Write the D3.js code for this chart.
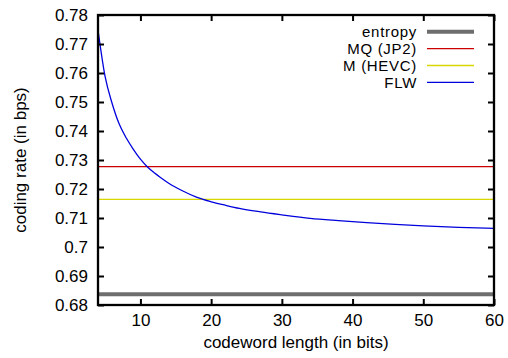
<!DOCTYPE html>
<html>
<head>
<meta charset="utf-8">
<script src="https://cdn.jsdelivr.net/npm/d3@7"></script>
<style>
  body { margin: 0; background: #fff; }
  svg { display: block; font-family: "Liberation Sans", Arial, sans-serif; }
</style>
</head>
<body>
<div id="chart"></div>
<script>
// codeword length (bits) for the FLW curve and its coding rate (bps)
const flwLength = [4, 5, 6, 7, 8, 9, 10, 11, 12, 13, 14, 16, 18, 20, 22, 24, 27, 30, 34, 38, 42, 46, 50, 55, 60];
const flwRate = [0.7748, 0.7588, 0.7495, 0.7424, 0.7376, 0.7337, 0.7303, 0.7276, 0.7255, 0.7237, 0.7220,
  0.7193, 0.7171, 0.7156, 0.7144, 0.7133, 0.7121, 0.7111, 0.7099, 0.7091, 0.7084, 0.7078, 0.7073, 0.7068, 0.7064];

// constant reference rates
const entropyRate = 0.6837;
const mqRate = 0.7277;
const hevcRate = 0.7164;

const legendNames = ['entropy', 'MQ (JP2)', 'M (HEVC)', 'FLW'];
const xTicks = [10, 20, 30, 40, 50, 60];
const yTicks = [0.68, 0.69, 0.70, 0.71, 0.72, 0.73, 0.74, 0.75, 0.76, 0.77, 0.78];

const W = 508, H = 358;
const margin = { top: 15, right: 14, bottom: 53, left: 98 };

const svg = d3.select('#chart').append('svg')
  .attr('width', W)
  .attr('height', H);

const x = d3.scaleLinear().domain([4, 60]).range([margin.left, W - margin.right]);
const y = d3.scaleLinear().domain([0.68, 0.78]).range([H - margin.bottom, margin.top]);

const styles = {
  'entropy': { color: '#6e6e6e', width: 4 },
  'MQ (JP2)': { color: '#cc0000', width: 1.3 },
  'M (HEVC)': { color: '#d8d800', width: 1.3 },
  'FLW': { color: '#0000dd', width: 1.3 }
};

// clip for data
svg.append('clipPath').attr('id', 'clip')
  .append('rect')
  .attr('x', x(4)).attr('y', y(0.78))
  .attr('width', x(60) - x(4)).attr('height', y(0.68) - y(0.78));

const plot = svg.append('g').attr('clip-path', 'url(#clip)');

const hlines = [
  { name: 'entropy', v: entropyRate },
  { name: 'MQ (JP2)', v: mqRate },
  { name: 'M (HEVC)', v: hevcRate }
];
plot.selectAll('line.h')
  .data(hlines)
  .enter().append('line')
  .attr('x1', x(4)).attr('x2', x(60))
  .attr('y1', d => y(d.v)).attr('y2', d => y(d.v))
  .attr('stroke', d => styles[d.name].color)
  .attr('stroke-width', d => styles[d.name].width);

const line = d3.line()
  .x(d => x(d[0]))
  .y(d => y(d[1]))
  .curve(d3.curveMonotoneX);

plot.append('path')
  .datum(flwLength.map((l, i) => [l, flwRate[i]]))
  .attr('d', line)
  .attr('fill', 'none')
  .attr('stroke', styles['FLW'].color)
  .attr('stroke-width', styles['FLW'].width);

// axes
const tickLen = 6;
const axisFont = '17px';

const xAxis = svg.append('g')
  .attr('transform', `translate(0,${y(0.68)})`)
  .call(d3.axisBottom(x).tickValues(xTicks).tickSizeInner(-tickLen).tickSizeOuter(0).tickPadding(9));
const xAxisTop = svg.append('g')
  .attr('transform', `translate(0,${y(0.78)})`)
  .call(d3.axisTop(x).tickValues(xTicks).tickSizeInner(-tickLen).tickSizeOuter(0).tickFormat(''));
const yAxis = svg.append('g')
  .attr('transform', `translate(${x(4)},0)`)
  .call(d3.axisLeft(y).tickValues(yTicks).tickSizeInner(-tickLen).tickSizeOuter(0).tickPadding(10)
    .tickFormat(d => d3.format('')(+d.toFixed(2))));
const yAxisRight = svg.append('g')
  .attr('transform', `translate(${x(60)},0)`)
  .call(d3.axisRight(y).tickValues(yTicks).tickSizeInner(-tickLen).tickSizeOuter(0).tickFormat(''));

[xAxis, xAxisTop, yAxis, yAxisRight].forEach(a => {
  a.select('.domain').remove();
  a.selectAll('.tick line').attr('stroke', '#000').attr('stroke-width', 2);
  a.selectAll('.tick text').attr('fill', '#000').style('font-size', axisFont)
    .style('font-family', '"Liberation Sans", Arial, sans-serif');
});

// frame
svg.append('rect')
  .attr('x', x(4)).attr('y', y(0.78))
  .attr('width', x(60) - x(4)).attr('height', y(0.68) - y(0.78))
  .attr('fill', 'none').attr('stroke', '#000').attr('stroke-width', 2.3);

// axis titles
svg.append('text')
  .attr('x', (x(4) + x(60)) / 2).attr('y', 348)
  .attr('text-anchor', 'middle')
  .style('font-size', axisFont)
  .text('codeword length (in bits)');

svg.append('text')
  .attr('transform', `translate(26,${(y(0.68) + y(0.78)) / 2}) rotate(-90)`)
  .attr('text-anchor', 'middle')
  .style('font-size', axisFont)
  .text('coding rate (in bps)');

// legend
const legend = svg.append('g');
const rowH = 16.9;
legendNames.forEach((name, i) => {
  const ly = 31.7 + i * rowH;
  legend.append('text')
    .attr('x', 417).attr('y', ly)
    .attr('dy', '0.36em')
    .attr('text-anchor', 'end')
    .style('font-size', '15px')
    .style('letter-spacing', '0.7px')
    .text(name);
  legend.append('line')
    .attr('x1', 427).attr('x2', 474)
    .attr('y1', ly).attr('y2', ly)
    .attr('stroke', styles[name].color)
    .attr('stroke-width', styles[name].width);
});
</script>
</body>
</html>
